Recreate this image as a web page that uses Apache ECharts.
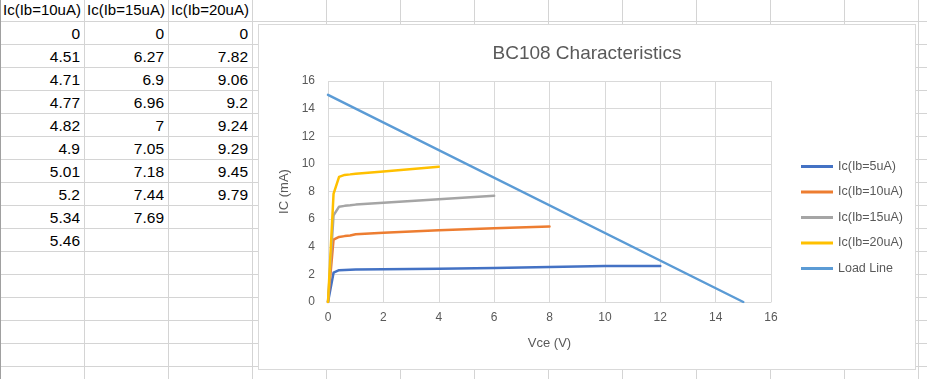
<!DOCTYPE html>
<html><head><meta charset="utf-8">
<script src="https://cdn.jsdelivr.net/npm/echarts@6/dist/echarts.min.js"></script>
<style>
html,body{margin:0;padding:0;width:927px;height:379px;overflow:hidden;background:#fff;font-family:"Liberation Sans",Arial,sans-serif;}
#sheet{position:absolute;left:0;top:0;width:927px;height:379px;}
.vl{position:absolute;top:0;width:1px;height:379px;background:#d4d4d4;}
.hl{position:absolute;left:0;height:1px;width:927px;background:#d4d4d4;}
.cell{position:absolute;height:23px;line-height:23px;color:#000;white-space:nowrap;overflow:hidden;}
#box{position:absolute;left:258px;top:24px;width:658px;height:346px;box-sizing:border-box;border:1px solid #d9d9d9;background:#fff;}
#chart{position:absolute;left:0;top:0;width:656px;height:344px;}
</style></head>
<body>
<div id="sheet"></div>
<div id="box"><div id="chart"></div></div>
<script>
// ---- data ----
const tableHeaders = ['Ic(Ib=10uA)', 'Ic(Ib=15uA)', 'Ic(Ib=20uA)'];
const seriesNames = ['Ic(Ib=5uA)', 'Ic(Ib=10uA)', 'Ic(Ib=15uA)', 'Ic(Ib=20uA)', 'Load Line'];
const vce = [0, 0.2, 0.4, 0.6, 0.8, 1, 2, 4, 6, 8, 10, 12];
const icIb5 = [0, 2.12, 2.3, 2.32, 2.34, 2.35, 2.38, 2.4, 2.47, 2.54, 2.6, 2.61];
const icIb10 = [0, 4.51, 4.71, 4.77, 4.82, 4.9, 5.01, 5.2, 5.34, 5.46];
const icIb15 = [0, 6.27, 6.9, 6.96, 7, 7.05, 7.18, 7.44, 7.69];
const icIb20 = [0, 7.82, 9.06, 9.2, 9.24, 9.29, 9.45, 9.79];
const loadVce = [0, 15];
const loadIc = [15, 0];
const chartTitle = 'BC108 Characteristics';
const xName = 'Vce (V)';
const yName = 'IC (mA)';

// ---- spreadsheet backdrop ----
const sheet = document.getElementById('sheet');
const colEdges = [84, 168, 252, 326, 400, 474, 548, 622, 696, 770, 844, 918];
const rowEdges = [];
for (let k = 0; k < 16; k++) rowEdges.push(Math.round(20.7 + 23.04 * k));
colEdges.forEach(x => { const d = document.createElement('div'); d.className = 'vl'; d.style.left = x + 'px'; sheet.appendChild(d); });
rowEdges.forEach(y => { const d = document.createElement('div'); d.className = 'hl'; d.style.top = y + 'px'; sheet.appendChild(d); });
const edge = document.createElement('div'); edge.className = 'vl'; edge.style.left = '0px'; edge.style.background = '#a0a0a0'; sheet.appendChild(edge);

const tableCols = [icIb10, icIb15, icIb20];
const colLeft = [0, 84, 168];
tableHeaders.forEach((h, c) => {
  const d = document.createElement('div'); d.className = 'cell';
  d.style.left = (colLeft[c] + 3) + 'px'; d.style.top = '-2px'; d.style.width = '82px';
  d.style.fontSize = '15px'; d.textContent = h; sheet.appendChild(d);
});
tableCols.forEach((col, c) => {
  col.forEach((v, r) => {
    const d = document.createElement('div'); d.className = 'cell';
    d.style.left = colLeft[c] + 'px'; d.style.width = '80px'; d.style.textAlign = 'right';
    d.style.top = (rowEdges[r] + 1) + 'px'; d.style.fontSize = '15.5px';
    d.textContent = String(v); sheet.appendChild(d);
  });
});

// ---- chart ----
const pairs = (xs, ys) => ys.map((y, i) => [xs[i], y]);
const seriesData = [pairs(vce, icIb5), pairs(vce, icIb10), pairs(vce, icIb15), pairs(vce, icIb20), pairs(loadVce, loadIc)];
const colors = ['#4472C4', '#ED7D31', '#A5A5A5', '#FFC000', '#5B9BD5'];
const FONT = '"Liberation Sans", Arial, sans-serif';
const chart = echarts.init(document.getElementById('chart'));
chart.setOption({
  animation: false,
  color: colors,
  title: { text: chartTitle, left: 'center', top: 14, textStyle: { fontFamily: FONT, fontSize: 19, fontWeight: 'normal', color: '#595959' } },
  legend: {
    orient: 'vertical', left: 542, top: 135, padding: 0, itemWidth: 32, itemHeight: 3, itemGap: 12.5,
    icon: 'rect',
    data: seriesNames,
    textStyle: { fontFamily: FONT, fontSize: 12.5, color: '#595959' }
  },
  grid: { left: 69, top: 56, right: 144, bottom: 67, containLabel: false },
  xAxis: {
    type: 'value', min: 0, max: 16, interval: 2,
    name: xName, nameLocation: 'middle', nameGap: 35,
    nameTextStyle: { fontFamily: FONT, fontSize: 13, color: '#595959' },
    axisLine: { show: true, lineStyle: { color: '#d9d9d9', width: 1 } },
    axisTick: { show: false },
    axisLabel: { margin: 10, fontFamily: FONT, fontSize: 12, color: '#595959' },
    splitLine: { show: true, lineStyle: { color: '#d9d9d9', width: 1 } }
  },
  yAxis: {
    type: 'value', min: 0, max: 16, interval: 2,
    name: yName, nameLocation: 'middle', nameGap: 27,
    nameTextStyle: { fontFamily: FONT, fontSize: 13, color: '#595959' },
    axisLine: { show: false },
    axisTick: { show: false },
    axisLabel: { margin: 13, fontFamily: FONT, fontSize: 12, color: '#595959' },
    splitLine: { show: true, lineStyle: { color: '#d9d9d9', width: 1 } }
  },
  series: seriesNames.map((n, i) => ({
    name: n, type: 'line', data: seriesData[i], symbol: 'none', smooth: false,
    lineStyle: { width: 2.5, color: colors[i], join: 'round', cap: 'round' },
    itemStyle: { color: colors[i] }
  }))
});
</script>
</body></html>
